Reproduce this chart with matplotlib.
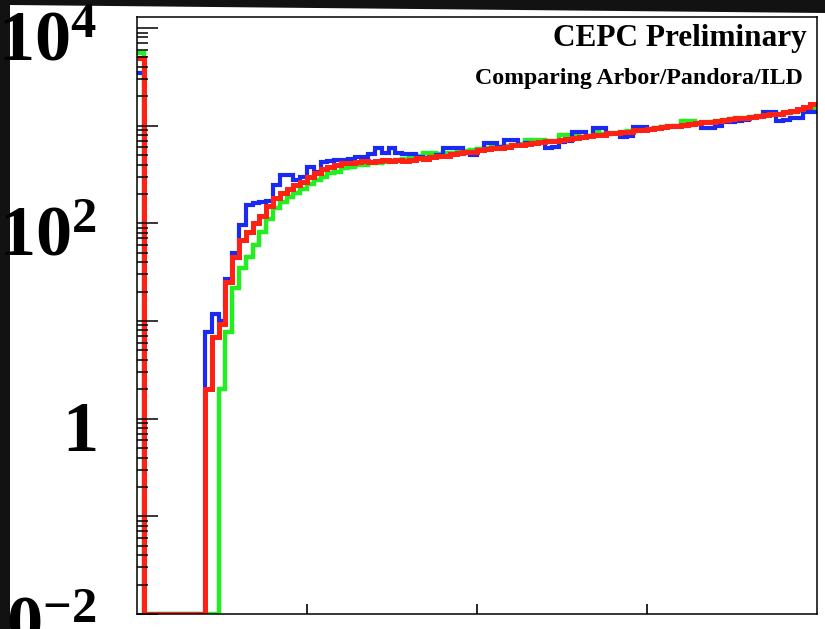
import numpy as np
import matplotlib
matplotlib.use("Agg")
import matplotlib.pyplot as plt
from matplotlib.patches import Polygon
from matplotlib.transforms import ScaledTranslation
from matplotlib.ticker import FixedLocator, LogLocator, FuncFormatter, NullFormatter

plt.rcParams['mathtext.fontset'] = 'custom'
plt.rcParams['mathtext.rm'] = 'Liberation Serif:bold'
plt.rcParams['mathtext.bf'] = 'Liberation Serif:bold'

# bin contents, 100 bins over [0, 100]
bin_edges = np.arange(0, 101)

arbor = [4900, 0, 0, 0, 0, 0, 0, 0, 0, 0,
         2.0, 6.8, 9.3, 25, 45, 67, 81, 102, 120, 150,
         180, 204, 223, 246, 264, 297, 326, 359, 376, 394,
         413, 413, 420, 430, 425, 440, 445, 440, 450, 440,
         450, 465, 460, 476, 490, 495, 511, 520, 535, 540,
         561, 575, 589, 590, 610, 631, 640, 647, 660, 678,
         690, 695, 711, 730, 745, 760, 781, 800, 810, 838,
         845, 858, 870, 899, 910, 930, 942, 960, 988, 1000,
         1012, 1036, 1060, 1086, 1100, 1120, 1138, 1160, 1194, 1210,
         1240, 1251, 1280, 1312, 1330, 1374, 1420, 1470, 1560, 1660]

pandora = [3450, 0, 0, 0, 0, 0, 0, 0, 0, 0,
           7.7, 11.7, 10, 27, 50, 96, 155, 160, 165, 170,
           246, 310, 310, 280, 297, 376, 334, 423, 430, 444,
           444, 455, 480, 480, 510, 585, 520, 585, 520, 511,
           511, 480, 470, 480, 500, 585, 585, 585, 520, 500,
           560, 660, 660, 600, 711, 711, 640, 660, 670, 660,
           585, 600, 680, 700, 860, 860, 780, 950, 950, 820,
           830, 770, 780, 970, 970, 920, 940, 960, 970, 990,
           1000, 1010, 1040, 950, 950, 1000, 1100, 1100, 1120, 1150,
           1200, 1230, 1380, 1380, 1130, 1150, 1200, 1200, 1380, 1380]

ild = [5600, 0, 0, 0, 0, 0, 0, 0, 0, 0,
       0, 0, 2.0, 7.7, 21.7, 35, 45, 60, 81, 110,
       145, 165, 185, 204, 223, 255, 275, 297, 326, 334,
       367, 376, 394, 400, 413, 413, 420, 435, 444, 455,
       470, 490, 520, 520, 510, 520, 530, 540, 550, 560,
       575, 590, 600, 610, 620, 630, 650, 720, 720, 720,
       700, 700, 800, 800, 800, 770, 790, 870, 820, 840,
       850, 860, 880, 890, 910, 930, 950, 970, 990, 1000,
       1130, 1130, 1060, 1080, 1100, 1120, 1140, 1170, 1190, 1210,
       1240, 1260, 1280, 1300, 1320, 1350, 1380, 1420, 1480, 1530]

y_min, y_max = 1e-2, 10 ** 4.113

W, H = 825, 629
fig = plt.figure(figsize=(W / 100, H / 100), dpi=100, facecolor='#121212')
# white canvas behind the pad (dark border on the left and top)
canvas = Polygon([(10 / W, 0), (10 / W, 1 - 5 / H), (1, 1 - 13 / H), (1, 0)],
                 closed=True, transform=fig.transFigure, facecolor='white',
                 edgecolor='none', zorder=-1)
fig.patches.append(canvas)

ax = fig.add_axes([137 / W, 15 / H, 680 / W, 597 / H])
ax.set_yscale('log')
ax.set_xlim(0, 100)
ax.set_ylim(y_min, y_max)

for vals, col, lw in [(ild, '#22ee22', 3.2), (pandora, '#1a2af0', 3.0), (arbor, '#ff2214', 3.6)]:
    v = np.asarray(vals, dtype=float)
    v = np.where(v > 0, v, y_min)  # empty bins sit on the axis floor
    st = ax.stairs(v, bin_edges, baseline=None, color=col, linewidth=lw)
    st.set_joinstyle('miter')

# axes / ticks, ROOT-like
for s in ax.spines.values():
    s.set_linewidth(1.1)
ax.xaxis.set_major_locator(FixedLocator([25, 50, 75]))
ax.xaxis.set_minor_locator(FixedLocator([]))
ax.tick_params(axis='x', which='major', direction='in', length=7, width=1.2,
               labelbottom=False, top=False)

ax.yaxis.set_major_locator(LogLocator(base=10, numticks=20))
ax.yaxis.set_minor_locator(LogLocator(base=10, subs=np.arange(2, 10), numticks=20))
ax.yaxis.set_minor_formatter(NullFormatter())


def ylab(v, pos):
    e = int(round(np.log10(v)))
    if e % 2:
        return ''
    if e == 0:
        return r'$\mathbf{1}$'
    return r'$\mathbf{10^{%d}}$' % e


ax.yaxis.set_major_formatter(FuncFormatter(ylab))
ax.tick_params(axis='y', which='major', direction='in', length=15, width=1.1,
               labelsize=52, pad=29, right=False)
ax.tick_params(axis='y', which='minor', direction='in', length=8, width=1.1, right=False)

# nudge the big labels a little below their ticks
shift = ScaledTranslation(0, -5 / 100, fig.dpi_scale_trans)
for tk in ax.yaxis.get_major_ticks():
    tk.label1.set_transform(tk.label1.get_transform() + shift)

ax.text(0.985, 0.951, 'CEPC Preliminary', transform=ax.transAxes, ha='right',
        va='baseline', fontsize=22.5, fontweight='bold', family='Liberation Serif')
ax.text(0.979, 0.888, 'Comparing Arbor/Pandora/ILD', transform=ax.transAxes, ha='right',
        va='baseline', fontsize=17.2, fontweight='bold', family='Liberation Serif')

fig.savefig('out.png', dpi=100, facecolor=fig.get_facecolor())
